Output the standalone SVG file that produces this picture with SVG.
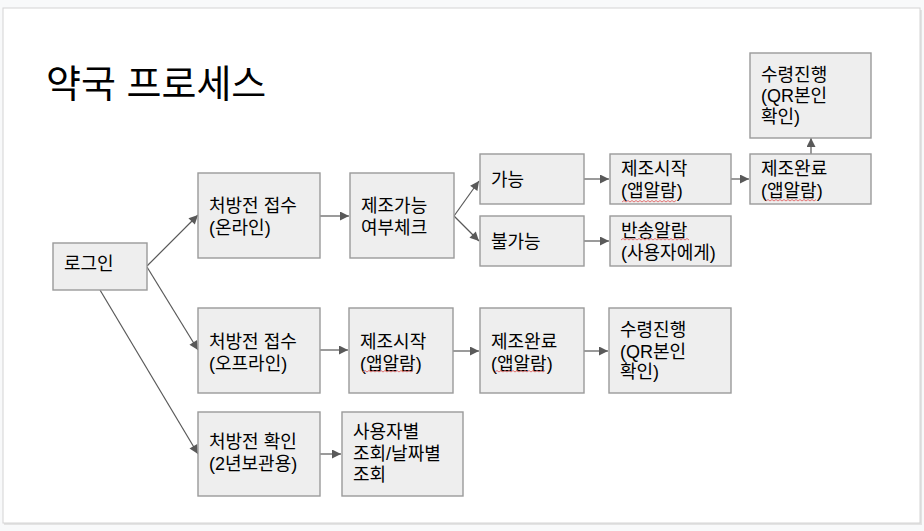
<svg xmlns="http://www.w3.org/2000/svg" width="924" height="531" viewBox="0 0 924 531">
<defs>
<marker id="ah" viewBox="0 0 10 10" refX="10" refY="5" markerWidth="10" markerHeight="9" markerUnits="userSpaceOnUse" orient="auto">
<path d="M0,0 L10,5 L0,10 z" fill="#595959"/>
</marker>
<style>
.box{fill:#eeeeee;stroke:#9a9a9a;stroke-width:1.4}
.t{font-family:"Liberation Sans","Noto Sans CJK KR",sans-serif;font-size:18px;fill:#000}
.title{font-family:"Liberation Sans","Noto Sans CJK KR",sans-serif;font-size:38px;fill:#000}
.c{stroke:#595959;stroke-width:1.2;fill:none;marker-end:url(#ah)}
.sq{stroke:#e06666;stroke-width:0.9;fill:none}
</style>
</defs>
<rect x="0" y="0" width="924" height="531" fill="#f8f9fa"/>
<rect x="4" y="10" width="918" height="515" fill="#e3e3e3"/>
<rect x="3" y="8" width="917" height="515" fill="#ffffff" stroke="#d4d4d4" stroke-width="1"/>
<text class="title" x="46" y="97">약국 프로세스</text>

<g id="connectors">
<line class="c" x1="147" y1="266" x2="198" y2="215"/>
<line class="c" x1="147" y1="267" x2="198" y2="350"/>
<line class="c" x1="100" y1="290" x2="198" y2="454"/>
<line class="c" x1="320" y1="216" x2="349" y2="216"/>
<line class="c" x1="454" y1="216" x2="479" y2="181"/>
<line class="c" x1="454" y1="216" x2="479" y2="241"/>
<line class="c" x1="584" y1="179" x2="609" y2="179"/>
<line class="c" x1="584" y1="241" x2="609" y2="241"/>
<line class="c" x1="731" y1="179" x2="749" y2="179"/>
<line class="c" x1="811" y1="154" x2="811" y2="138"/>
<line class="c" x1="320" y1="350" x2="348" y2="350"/>
<line class="c" x1="453" y1="351" x2="479" y2="351"/>
<line class="c" x1="584" y1="351" x2="608" y2="351"/>
<line class="c" x1="320" y1="454" x2="341" y2="454"/>
</g>

<g id="login"><rect class="box" x="53" y="243" width="94" height="47"/><text class="t" x="64" y="270">로그인</text></g>
<g id="online"><rect class="box" x="198" y="173" width="122" height="85"/><text class="t" x="209" y="212">처방전 접수</text><text class="t" x="209" y="234">(온라인)</text></g>
<g id="check"><rect class="box" x="350" y="173" width="104" height="85"/><text class="t" x="361" y="212">제조가능</text><text class="t" x="361" y="233.5">여부체크</text></g>
<g id="possible"><rect class="box" x="480" y="154" width="104" height="50"/><text class="t" x="491" y="186">가능</text></g>
<g id="impossible"><rect class="box" x="480" y="216" width="104" height="50"/><text class="t" x="491" y="248">불가능</text></g>
<g id="start1"><rect class="box" x="610" y="154" width="121" height="50"/><text class="t" x="621" y="175">제조시작</text><text class="t" x="621" y="197">(앱알람)</text>
<path class="sq" d="M622,202 l2,-1.5 l2,1.5 l2,-1.5 l2,1.5 l2,-1.5 l2,1.5 l2,-1.5 l2,1.5 l2,-1.5 l2,1.5 l2,-1.5 l2,1.5 l2,-1.5 l2,1.5 l2,-1.5 l2,1.5 l2,-1.5 l2,1.5 l2,-1.5 l2,1.5 l2,-1.5 l2,1.5 l2,-1.5 l2,1.5 l2,-1.5 l2,1.5 l2,-1.5"/></g>
<g id="return"><rect class="box" x="610" y="216" width="121" height="50"/><text class="t" x="621" y="237">반송알람</text><text class="t" x="621" y="258.5">(사용자에게)</text>
<path class="sq" d="M621,240 l2,-1.5 l2,1.5 l2,-1.5 l2,1.5 l2,-1.5 l2,1.5 l2,-1.5 l2,1.5 l2,-1.5 l2,1.5 l2,-1.5 l2,1.5 l2,-1.5 l2,1.5 l2,-1.5 l2,1.5 l2,-1.5 l2,1.5 l2,-1.5 l2,1.5 l2,-1.5 l2,1.5 l2,-1.5 l2,1.5 l2,-1.5 l2,1.5 l2,-1.5 l2,1.5 l2,-1.5 l2,1.5 l2,-1.5 l2,1.5 l2,-1.5 l2,1.5"/></g>
<g id="done1"><rect class="box" x="750" y="154" width="121" height="50"/><text class="t" x="761" y="175">제조완료</text><text class="t" x="761" y="197">(앱알람)</text>
<path class="sq" d="M766,201 l2,-1.5 l2,1.5 l2,-1.5 l2,1.5 l2,-1.5 l2,1.5 l2,-1.5 l2,1.5 l2,-1.5 l2,1.5 l2,-1.5 l2,1.5 l2,-1.5 l2,1.5 l2,-1.5 l2,1.5 l2,-1.5 l2,1.5 l2,-1.5 l2,1.5 l2,-1.5 l2,1.5 l2,-1.5 l2,1.5 l2,-1.5"/></g>
<g id="receive1"><rect class="box" x="750" y="53" width="121" height="85"/><text class="t" x="761" y="81">수령진행</text><text class="t" x="761" y="102">(QR본인</text><text class="t" x="761" y="123">확인)</text></g>
<g id="offline"><rect class="box" x="198" y="308" width="122" height="85"/><text class="t" x="209" y="348">처방전 접수</text><text class="t" x="209" y="370">(오프라인)</text></g>
<g id="start2"><rect class="box" x="349" y="308" width="104" height="85"/><text class="t" x="360" y="348">제조시작</text><text class="t" x="360" y="370">(앱알람)</text>
<path class="sq" d="M363,372 l2,-1.5 l2,1.5 l2,-1.5 l2,1.5 l2,-1.5 l2,1.5 l2,-1.5 l2,1.5 l2,-1.5 l2,1.5 l2,-1.5 l2,1.5 l2,-1.5 l2,1.5 l2,-1.5 l2,1.5 l2,-1.5 l2,1.5 l2,-1.5 l2,1.5 l2,-1.5 l2,1.5 l2,-1.5 l2,1.5 l2,-1.5"/></g>
<g id="done2"><rect class="box" x="480" y="308" width="104" height="85"/><text class="t" x="491" y="348">제조완료</text><text class="t" x="491" y="370">(앱알람)</text>
<path class="sq" d="M495,372 l2,-1.5 l2,1.5 l2,-1.5 l2,1.5 l2,-1.5 l2,1.5 l2,-1.5 l2,1.5 l2,-1.5 l2,1.5 l2,-1.5 l2,1.5 l2,-1.5 l2,1.5 l2,-1.5 l2,1.5 l2,-1.5 l2,1.5 l2,-1.5 l2,1.5 l2,-1.5 l2,1.5 l2,-1.5 l2,1.5 l2,-1.5"/></g>
<g id="receive2"><rect class="box" x="609" y="308" width="122" height="85"/><text class="t" x="620" y="336">수령진행</text><text class="t" x="620" y="357.5">(QR본인</text><text class="t" x="620" y="378">확인)</text></g>
<g id="confirm"><rect class="box" x="198" y="412" width="122" height="84"/><text class="t" x="209" y="448">처방전 확인</text><text class="t" x="209" y="470">(2년보관용)</text></g>
<g id="lookup"><rect class="box" x="342" y="412" width="121" height="84"/><text class="t" x="353" y="438">사용자별</text><text class="t" x="353" y="459.5">조회/날짜별</text><text class="t" x="353" y="481">조회</text></g>
</svg>
